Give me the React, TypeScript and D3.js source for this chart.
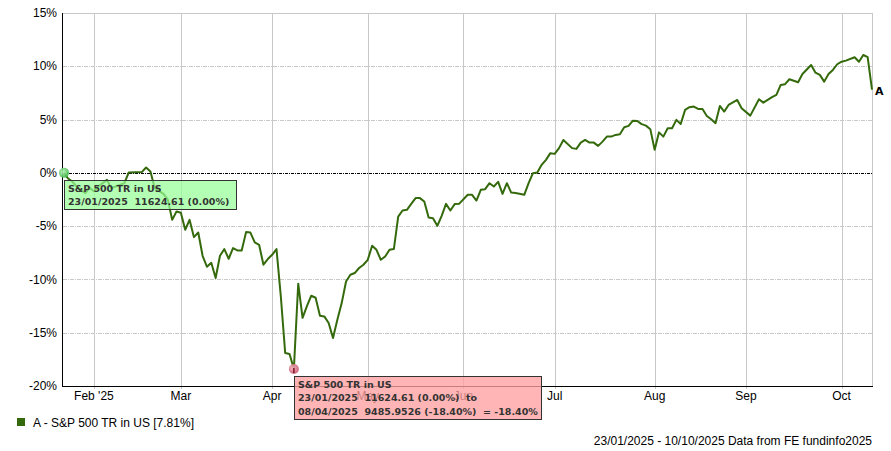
import React from 'react';
import * as d3 from 'd3';

const startDate = '2025-01-23';
const endDate = '2025-10-10';
const yTicks = [15, 10, 5, 0, -5, -10, -15, -20];
const monthLabels = ["Feb '25", 'Mar', 'Apr', 'May', 'Jun', 'Jul', 'Aug', 'Sep', 'Oct'];
const monthNumbers = [1, 2, 3, 4, 5, 6, 7, 8, 9];
const seriesName = 'S&P 500 TR in US';
const seriesCode = 'A';
const finalReturn = '7.81%';
const footer = '23/01/2025 - 10/10/2025 Data from FE fundinfo2025';

// [trading-day index from 23/01/2025, cumulative return %]
const series: [number, number][] = [
  [0, 0], [1, -0.5], [2, -0.81], [3, -1.28], [5, -1.9], [6, -1.4], [7, -1.72], [8, -1.28],
  [10, -0.66], [11, -1.43], [12, -1.28], [14, -0.97], [15, 0.03], [18, 0.07], [19, 0.5],
  [20, 0.12], [21, -1.44], [23, -1.97], [24, -2.5], [25, -4.41], [26, -3.63], [27, -3.75],
  [28, -5.34], [29, -4.41], [30, -6.03], [31, -5.6], [32, -7.78], [33, -8.81], [34, -8.44],
  [35, -9.87], [36, -7.78], [37, -7.15], [38, -8.06], [39, -7.06], [40, -7.28], [41, -7.28],
  [42, -5.56], [43, -5.6], [44, -6.53], [45, -6.75], [46, -8.62], [47, -8.09], [48, -7.69],
  [49, -7.15], [50, -11.6], [51, -16.9], [52, -17.0], [53, -18.4], [54, -10.4], [55, -13.6],
  [56, -12.5], [57, -11.53], [58, -11.72], [59, -13.4], [60, -13.47], [61, -14.09], [62, -15.5],
  [63, -13.78], [64, -12.22], [65, -10.19], [66, -9.56], [67, -9.4], [68, -8.93], [69, -8.62],
  [70, -8.16], [71, -6.84], [72, -7.22], [73, -8.16], [74, -7.85], [75, -7.22], [76, -7.15],
  [77, -4.1], [78, -3.53], [79, -3.47], [80, -2.91], [81, -2.37], [82, -2.37], [83, -2.69],
  [84, -4.19], [85, -4.25], [86, -4.97], [87, -4.03], [88, -2.91], [89, -3.53], [90, -2.93],
  [91, -2.91], [93, -2.06], [94, -2.06], [95, -2.6], [96, -1.59], [97, -1.53], [98, -0.97],
  [99, -1.28], [100, -0.84], [101, -1.97], [102, -0.97], [103, -1.85], [104, -1.9], [106, -2.06],
  [107, -0.97], [108, -0.03], [109, 0.03], [110, 0.75], [111, 1.22], [112, 1.85], [113, 1.78],
  [114, 2.32], [115, 3.09], [117, 2.32], [118, 2.25], [119, 2.84], [120, 3.09], [121, 2.84],
  [122, 2.84], [123, 2.53], [124, 2.93], [125, 3.4], [126, 3.4], [127, 3.56], [128, 3.63],
  [129, 4.28], [130, 4.41], [131, 4.9], [132, 4.87], [133, 4.57], [134, 4.43], [135, 4.1],
  [136, 2.16], [137, 3.8], [138, 3.4], [139, 4.19], [140, 4.19], [141, 4.97], [142, 4.59],
  [143, 5.91], [144, 6.16], [145, 6.22], [146, 6.0], [147, 6.0], [148, 5.34], [149, 5.03],
  [150, 4.66], [151, 6.28], [152, 5.75], [153, 6.37], [155, 6.84], [156, 6.07], [158, 5.37],
  [160, 6.91], [161, 6.59], [163, 7.1], [164, 7.31], [165, 8.25], [166, 8.32], [167, 8.78],
  [169, 8.5], [170, 9.28], [172, 10.12], [173, 9.4], [174, 9.19], [175, 8.56], [176, 9.28],
  [177, 9.66], [178, 10.19], [179, 10.43], [180, 10.53], [182, 10.85], [183, 10.43],
  [184, 11.06], [185, 10.85], [186, 7.81],
];

const startTip = ['S&P 500 TR in US', '23/01/2025  11624.61 (0.00%)'];
const troughTip = [
  'S&P 500 TR in US',
  '23/01/2025  11624.61 (0.00%)  to',
  '08/04/2025  9485.9526 (-18.40%)  = -18.40%',
];
const troughDay = 53;

function tradingDays(): Date[] {
  const out: Date[] = [];
  const d = new Date(startDate + 'T00:00:00Z');
  const e = new Date(endDate + 'T00:00:00Z');
  while (d <= e) {
    const w = d.getUTCDay();
    if (w !== 0 && w !== 6) out.push(new Date(d));
    d.setUTCDate(d.getUTCDate() + 1);
  }
  return out;
}

const W = 891;
const H = 451;
const L = 63;
const R = 872;
const T = 13;
const B = 386;
const LINE = '#346a0c';
const GRID = '#c8c8c8';
const AX_FONT = 'Liberation Sans, Arial, sans-serif';
const TIP_FONT = 'DejaVu Sans, Verdana, sans-serif';

export default function App() {
  const days = tradingDays();
  const x = d3.scaleLinear().domain([0, days.length - 1]).range([L + 0.5, R]);
  const y = d3.scaleLinear().domain([-20, 15]).range([B, T]);
  const line = d3
    .line<[number, number]>()
    .x((d) => x(d[0]))
    .y((d) => y(d[1]));
  const monthIdx = monthNumbers.map((m) => days.findIndex((d) => d.getUTCMonth() === m));
  const last = series[series.length - 1];
  const first = series[0];
  const trough = series.find((d) => d[0] === troughDay)!;
  const px = (v: number) => Math.round(v) + 0.5;

  return (
    <svg
      width={W}
      height={H}
      style={{ position: 'absolute', left: 0, top: 0, display: 'block', background: '#fff' }}
    >
      <defs>
        <radialGradient id="gGreen" cx="40%" cy="40%" r="60%">
          <stop offset="0%" stopColor="#b8f5b8" />
          <stop offset="100%" stopColor="#3fb94a" />
        </radialGradient>
        <radialGradient id="gPink" cx="40%" cy="40%" r="60%">
          <stop offset="0%" stopColor="#f6b3c0" />
          <stop offset="100%" stopColor="#c85a70" />
        </radialGradient>
      </defs>
      <rect x={0} y={0} width={W} height={H} fill="#fff" />
      {/* vertical grid */}
      {monthIdx.map((i, k) => (
        <line key={'vg' + k} x1={px(x(i))} x2={px(x(i))} y1={T} y2={B + 3} stroke={GRID} strokeWidth={1} />
      ))}
      {/* horizontal grid */}
      {yTicks
        .filter((t) => t !== 0 && t !== -20 && t !== 15)
        .map((t) => (
          <line key={'hg' + t} x1={L} x2={R} y1={px(y(t))} y2={px(y(t))} stroke={GRID} strokeDasharray="4,1,1,1" />
        ))}
      <line x1={L} x2={R} y1={px(y(15))} y2={px(y(15))} stroke={GRID} />
      <line x1={R + 0.5} x2={R + 0.5} y1={T} y2={B} stroke={GRID} />
      {/* zero line */}
      <line x1={L} x2={R} y1={px(y(0))} y2={px(y(0))} stroke="#000" strokeDasharray="3,1,1,1" />
      {/* axes */}
      <line x1={L - 0.5} x2={L - 0.5} y1={T} y2={B + 1} stroke="#000" />
      <line x1={L - 1} x2={R + 1} y1={B + 0.5} y2={B + 0.5} stroke="#000" />
      {yTicks.map((t) => (
        <text key={'yl' + t} x={57} y={y(t)} dy="0.35em" textAnchor="end" fontFamily={AX_FONT} fontSize={12} fill="#000">
          {t + '%'}
        </text>
      ))}
      {monthIdx.map((i, k) => (
        <text key={'xl' + k} x={x(i)} y={400} textAnchor="middle" fontFamily={AX_FONT} fontSize={12} fill="#000">
          {monthLabels[k]}
        </text>
      ))}
      {/* data line */}
      <path d={line(series) || ''} fill="none" stroke={LINE} strokeWidth={2} strokeLinejoin="round" />
      <text x={875} y={y(last[1]) + 5} fontFamily={TIP_FONT} fontWeight="bold" fontSize={11} fill="#000">
        {seriesCode}
      </text>
      {/* markers */}
      <circle cx={x(first[0]) + 0.5} cy={y(first[1])} r={5} fill="url(#gGreen)" opacity={0.9} />
      <circle cx={x(trough[0])} cy={y(trough[1])} r={5} fill="url(#gPink)" opacity={0.9} />
      <line x1={x(trough[0])} x2={x(trough[0])} y1={y(trough[1]) - 1} y2={y(trough[1]) + 4} stroke="#7a1020" strokeWidth={1.5} />
      {/* start tooltip */}
      <rect x={64.5} y={180.5} width={172} height={29} fill="rgba(150,255,150,0.72)" stroke="#333" strokeWidth={1} />
      {startTip.map((s, k) => (
        <text key={'st' + k} x={68} y={191.5 + k * 13.6} fontFamily={TIP_FONT} fontWeight="bold" fontSize={9.5} fill="#333" style={{ whiteSpace: 'pre' }}>
          {s}
        </text>
      ))}
      {/* trough tooltip */}
      <rect x={294.5} y={376.5} width={247} height={43} fill="rgba(255,160,160,0.78)" stroke="#333" strokeWidth={1} />
      {troughTip.map((s, k) => (
        <text key={'tt' + k} x={298} y={387.5 + k * 13.6} fontFamily={TIP_FONT} fontWeight="bold" fontSize={9.5} fill="#333" style={{ whiteSpace: 'pre' }}>
          {s}
        </text>
      ))}
      {/* legend */}
      <rect x={17} y={418} width={8} height={8} fill={LINE} />
      <text x={33} y={427} fontFamily={AX_FONT} fontSize={12} fill="#000">
        {`${seriesCode} - ${seriesName} [${finalReturn}]`}
      </text>
      <text x={872} y={445} textAnchor="end" fontFamily={AX_FONT} fontSize={12} fill="#000">
        {footer}
      </text>
    </svg>
  );
}
